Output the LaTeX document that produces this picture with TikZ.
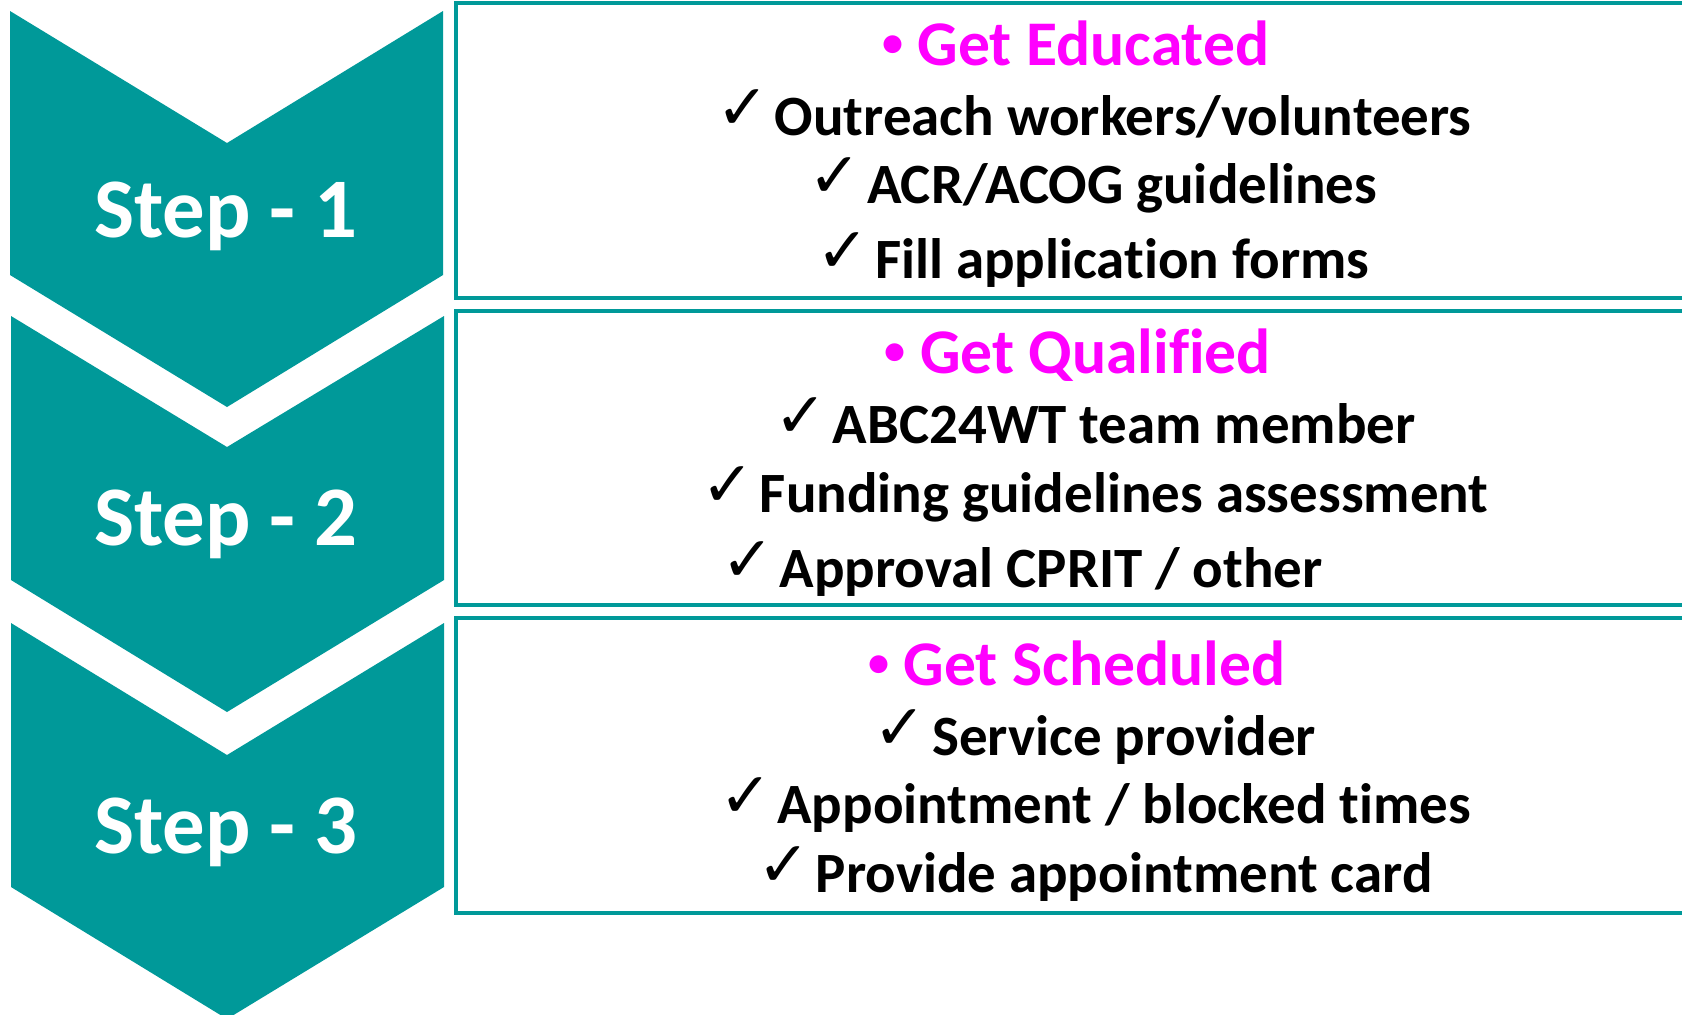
\documentclass[tikz,border=0pt]{standalone}
\usepackage{fontspec}
\setmainfont{Carlito}[Ligatures=NoCommon]
\newfontfamily\checkfont{DejaVu Sans}
\usepackage{tikz}

\definecolor{stepteal}{RGB}{0,153,153}
\definecolor{headpink}{RGB}{255,0,255}

\newcommand{\tick}{\raisebox{1.5pt}{\checkfont\fontsize{18}{20}\selectfont ✓}\hspace{1.5pt}}
\newcommand{\headdot}{{\fontsize{12}{14}\selectfont\raisebox{2.5pt}{•}}\hspace{4pt}}

\tikzset{
  steplabel/.style={anchor=base, text=white, font=\bfseries\fontsize{24.1}{30}\selectfont},
  headline/.style={anchor=base, text=headpink, font=\bfseries\fontsize{18.1}{22}\selectfont},
  itemline/.style={anchor=base, text=black, font=\bfseries\fontsize{16.2}{20}\selectfont},
  stepbox/.style={draw=stepteal, line width=1.35pt}
}

\begin{document}
\begin{tikzpicture}[x=0.01cm, y=-0.01cm]
\useasboundingbox (0,0) rectangle (1682,1014);
\clip (0,0) rectangle (1682,1014);

% chevrons
\fill[stepteal] (10,11) -- (227,143) -- (443,11) -- (443,275) -- (227,407) -- (10,275) -- cycle;
\fill[stepteal] (11,316) -- (227,447) -- (444,316) -- (444,580) -- (227,712) -- (11,580) -- cycle;
\fill[stepteal] (11,623) -- (227,755) -- (444,623) -- (444,887) -- (227,1019) -- (11,887) -- cycle;

\node[steplabel] (step1) at (226,237) {Step - 1};
\node[steplabel] (step2) at (226,545) {Step - 2};
\node[steplabel] (step3) at (226,853) {Step - 3};

% boxes
\draw[stepbox] (456,3) rectangle (1700,298);
\draw[stepbox] (456,311) rectangle (1700,605);
\draw[stepbox] (456,618) rectangle (1700,913);

% step 1
\node[headline] (head1) at (1076,65) {\headdot Get Educated};
\node[itemline] (item1a) at (1094,135) {\tick Outreach workers/volunteers};
\node[itemline] (item1b) at (1093,203) {\tick ACR/ACOG guidelines};
\node[itemline] (item1c) at (1093,278) {\tick Fill application forms};

% step 2
\node[headline] (head2) at (1078,373) {\headdot Get Qualified};
\node[itemline] (item2a) at (1095,443) {\tick ABC24WT team member};
\node[itemline] (item2b) at (1095,512) {\tick Funding guidelines assessment};
\node[itemline] (item2c) at (1022,587) {\tick Approval CPRIT / other};

% step 3
\node[headline] (head3) at (1077,685) {\headdot Get Scheduled};
\node[itemline] (item3a) at (1095,755) {\tick Service provider};
\node[itemline] (item3b) at (1095,823) {\tick Appointment / blocked times};
\node[itemline] (item3c) at (1095,892) {\tick Provide appointment card};
\end{tikzpicture}
\end{document}
